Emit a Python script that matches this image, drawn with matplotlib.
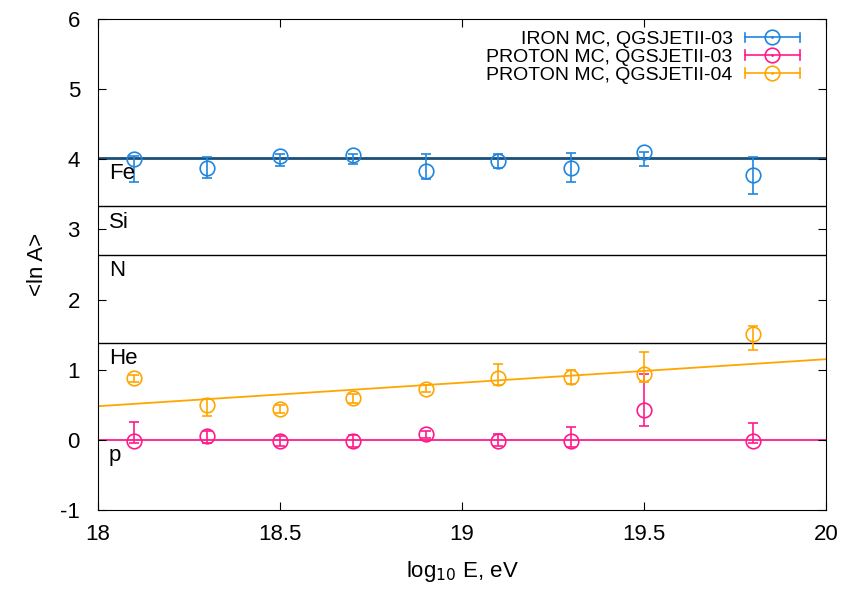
import numpy as np
import matplotlib
matplotlib.use('Agg')
import matplotlib.pyplot as plt
from matplotlib.lines import Line2D
from matplotlib.legend_handler import HandlerBase

plt.rcParams['font.family'] = ['Liberation Sans', 'DejaVu Sans']
plt.rcParams['axes.unicode_minus'] = False

# energy bins, log10(E/eV)
log_e = [18.1, 18.3, 18.5, 18.7, 18.9, 19.1, 19.3, 19.5, 19.8]
log_e_p = [18.1, 18.3, 18.5, 18.7, 18.9, 19.1, 19.3, 19.5, 19.8]

# iron MC, QGSJETII-03
iron_y = [4.01, 3.88, 4.04, 4.06, 3.83, 3.97, 3.88, 4.10, 3.77]
iron_lo = [0.34, 0.15, 0.14, 0.13, 0.11, 0.10, 0.21, 0.20, 0.27]
iron_hi = [0.03, 0.15, 0.03, 0.01, 0.24, 0.10, 0.21, 0.01, 0.26]

# proton MC, QGSJETII-03
p03_y = [-0.02, 0.06, -0.02, -0.02, 0.08, -0.01, -0.01, 0.42, -0.01]
p03_lo = [0.02, 0.10, 0.07, 0.08, 0.05, 0.08, 0.09, 0.22, 0.03]
p03_hi = [0.27, 0.07, 0.07, 0.09, 0.05, 0.09, 0.20, 0.52, 0.25]

# proton MC, QGSJETII-04
p04_y = [0.88, 0.50, 0.44, 0.59, 0.73, 0.88, 0.90, 0.94, 1.51]
p04_lo = [0.05, 0.16, 0.06, 0.06, 0.05, 0.10, 0.10, 0.11, 0.23]
p04_hi = [0.05, 0.08, 0.06, 0.06, 0.05, 0.20, 0.10, 0.31, 0.11]

# linear fit to QGSJETII-04 points
fit_x = [18.0, 20.0]
fit_y = [0.48, 1.15]

# reference nuclei
nuclei = ['p', 'He', 'N', 'Si', 'Fe']
mass_a = [1, 4, 14, 28, 56]

c_iron = '#1f86e0'
c_p03 = '#ff1a8c'
c_p04 = '#ffa500'


class HandlerXErr(HandlerBase):
    """gnuplot-like key sample: horizontal bar with caps and open circle"""
    def create_artists(self, legend, orig_handle, xdescent, ydescent,
                       width, height, fontsize, trans):
        col = orig_handle.get_color()
        y = height / 2 - ydescent
        x0, x1 = -xdescent, width - xdescent
        cap = 0.25 * fontsize
        bar = Line2D([x0, x1], [y, y], color=col, lw=1.2, transform=trans)
        c0 = Line2D([x0, x0], [y - cap, y + cap], color=col, lw=1.2, transform=trans)
        c1 = Line2D([x1, x1], [y - cap, y + cap], color=col, lw=1.2, transform=trans)
        mk = Line2D([(x0 + x1) / 2], [y], marker='o', mfc='none', mec=col, ms=10.5,
                    mew=1.2, ls='none', transform=trans)
        dot = Line2D([(x0 + x1) / 2], [y], marker='.', color=col, ms=2,
                     ls='none', transform=trans)
        return [bar, c0, c1, mk, dot]


fig = plt.figure(figsize=(8.47, 5.89), dpi=100)
ax = fig.add_axes([98 / 847, 1 - 510 / 589, 728 / 847, 491 / 589])

# composition lines
for name, a in zip(nuclei, mass_a):
    lna = np.log(a)
    if name == 'Fe':
        ax.axhline(lna, color='#1a4f7a', lw=2.0, zorder=1)
    elif name == 'p':
        ax.axhline(lna, color=c_p03, lw=1.3, zorder=1)
    else:
        ax.axhline(lna, color='black', lw=1.0, zorder=1)
    ax.text(18.03, lna - 0.08, name, fontsize=16, va='top', ha='left')

ax.plot(fit_x, fit_y, color=c_p04, lw=1.3, zorder=1)

style = dict(fmt='o', mfc='none', ms=10.5, mew=1.2, capsize=3.5, elinewidth=1.2, capthick=1.2)
ax.errorbar(log_e, iron_y, yerr=[iron_lo, iron_hi], color=c_iron, **style)
ax.errorbar(log_e_p, p03_y, yerr=[p03_lo, p03_hi], color=c_p03, **style)
ax.errorbar(log_e_p, p04_y, yerr=[p04_lo, p04_hi], color=c_p04, **style)

labels = ['IRON MC, QGSJETII-03', 'PROTON MC, QGSJETII-03', 'PROTON MC, QGSJETII-04']
handles = [Line2D([], [], color=c) for c in [c_iron, c_p03, c_p04]]

ax.set_xlim(18, 20)
ax.set_ylim(-1, 6)
ax.set_xticks([18, 18.5, 19, 19.5, 20])
ax.set_xticklabels(['18', '18.5', '19', '19.5', '20'])
ax.set_yticks(range(-1, 7))
ax.tick_params(direction='in', top=True, right=True, length=6, labelsize=16)
ax.tick_params(axis='x', pad=10)
ax.tick_params(axis='y', pad=13)
ax.set_xlabel('log$_{10}$ E, eV', fontsize=16, labelpad=10)
ax.set_ylabel('<ln A>', fontsize=16, labelpad=9)

leg = ax.legend(handles, labels, handler_map={Line2D: HandlerXErr()},
                loc='upper right', bbox_to_anchor=(0.98, 1.0),
                frameon=False, markerfirst=False, fontsize=14,
                handlelength=2.83, handletextpad=0.62, labelspacing=0.0,
                borderaxespad=0.3, borderpad=0.3)

plt.savefig('out.png', dpi=100)
